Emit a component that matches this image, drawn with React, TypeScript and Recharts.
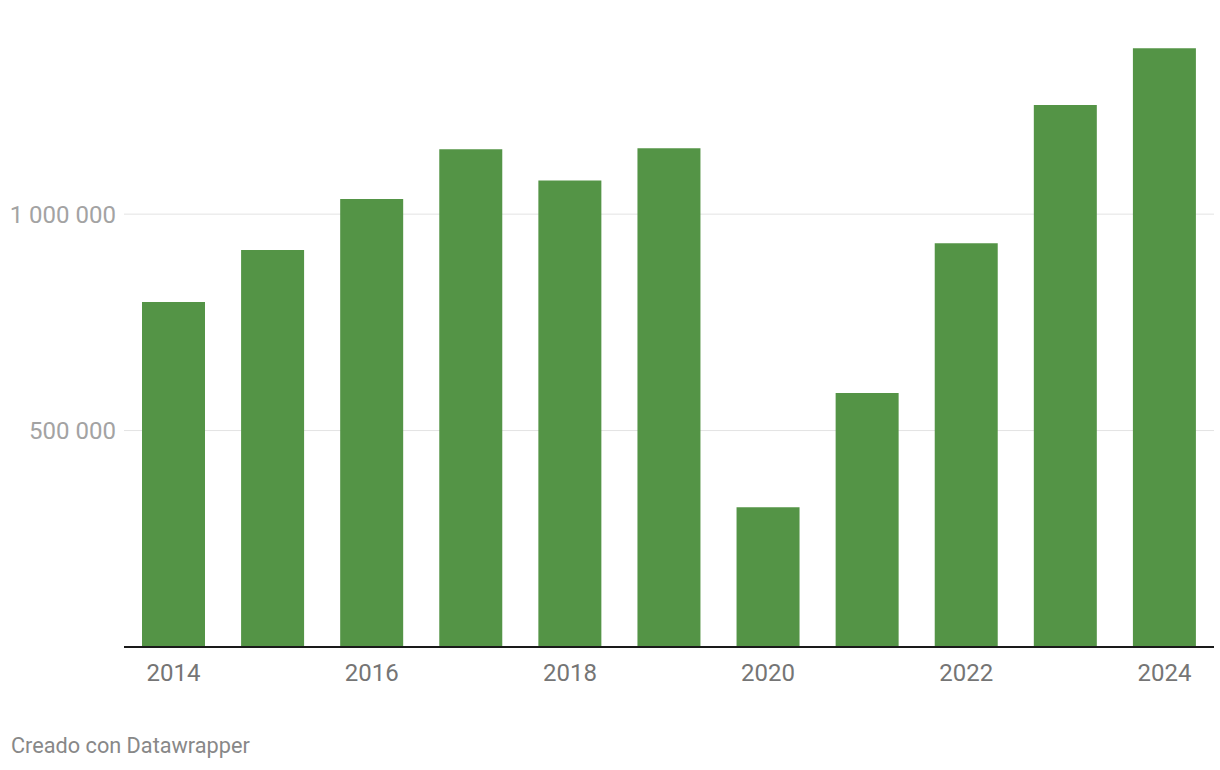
import { BarChart, Bar, XAxis, YAxis, CartesianGrid } from 'recharts';

document.body.style.margin = '0';

const years = ['2014', '2015', '2016', '2017', '2018', '2019', '2020', '2021', '2022', '2023', '2024'];
const visitors = [797000, 917000, 1035000, 1150000, 1078000, 1152000, 323000, 587000, 933000, 1252000, 1383000];
const yTicks = [500000, 1000000];

const data = years.map((year, i) => ({ year, value: visitors[i] }));

const formatNumber = (v: number) => String(v).replace(/\B(?=(\d{3})+(?!\d))/g, ' ');

export default function App() {
  return (
    <div style={{ position: 'relative', width: 1220, height: 770, background: '#fff', fontFamily: 'Roboto, sans-serif' }}>
      <BarChart width={1220} height={770} data={data} margin={{ top: 41, right: 6, bottom: 63, left: 0 }}>
        <CartesianGrid vertical={false} horizontalValues={yTicks} stroke="#e3e3e3" strokeWidth={1} />
        <XAxis
          dataKey="year"
          height={60}
          interval={1}
          tickLine={false}
          tickMargin={11}
          axisLine={{ stroke: '#1a1a1a', strokeWidth: 2 }}
          tick={{ fill: '#757575', fontSize: 24, fontFamily: 'Roboto' }}
        />
        <YAxis
          width={124}
          domain={[0, 1400000]}
          ticks={yTicks}
          tickFormatter={formatNumber}
          axisLine={false}
          tickLine={false}
          tick={{ fill: '#a3a3a3', fontSize: 24, fontFamily: 'Roboto' }}
        />
        <Bar dataKey="value" fill="#549446" barSize={63} isAnimationActive={false} />
      </BarChart>
      <div style={{ position: 'absolute', left: 11, top: 733, fontSize: 21.7, color: '#888', fontFamily: 'Roboto' }}>
        Creado con Datawrapper
      </div>
    </div>
  );
}
